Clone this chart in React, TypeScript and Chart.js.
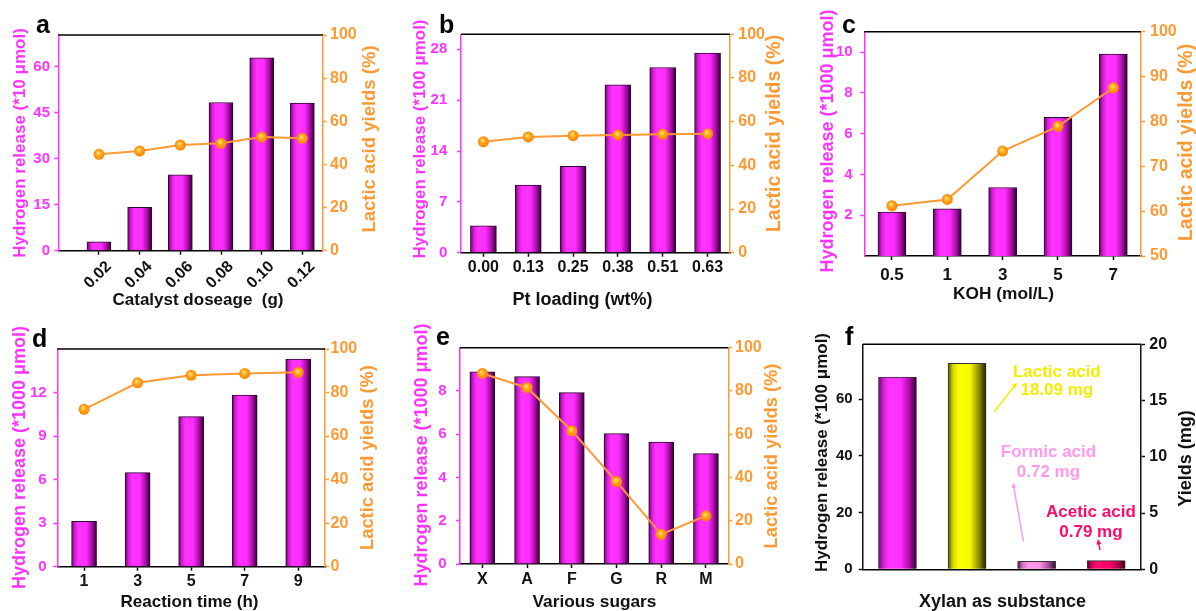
import React, { useEffect, useRef } from 'react';
import { Chart, registerables } from 'chart.js';

Chart.register(...registerables);

// ---------------- data ----------------
// (a) catalyst dosage
const aDoseLabels = ['0.02', '0.04', '0.06', '0.08', '0.10', '0.12'];
const aHydrogen = [2.9, 14.1, 24.7, 48.3, 62.9, 48.1];
const aLactic = [44.7, 46.2, 49.0, 49.8, 52.7, 52.1];
const aHTicks = [0, 15, 30, 45, 60];

// (b) Pt loading
const bPtLabels = ['0.00', '0.13', '0.25', '0.38', '0.51', '0.63'];
const bHydrogen = [3.7, 9.3, 11.9, 23.1, 25.5, 27.5];
const bLactic = [50.8, 53.0, 53.6, 53.9, 54.2, 54.5];
const bHTicks = [0, 7, 14, 21, 28];

// (c) KOH concentration
const cKohLabels = ['0.5', '1', '3', '5', '7'];
const cHydrogen = [2.15, 2.31, 3.36, 6.8, 9.9];
const cLactic = [61.2, 62.6, 73.4, 78.9, 87.5];
const cHTicks = [2, 4, 6, 8, 10];
const cLTicks = [50, 60, 70, 80, 90, 100];

// (d) reaction time
const dTimeLabels = ['1', '3', '5', '7', '9'];
const dHydrogen = [3.13, 6.48, 10.34, 11.82, 14.3];
const dLactic = [72.3, 84.5, 87.9, 88.8, 89.3];
const dHTicks = [0, 3, 6, 9, 12];

// (e) various sugars
const eSugarLabels = ['X', 'A', 'F', 'G', 'R', 'M'];
const eHydrogen = [8.89, 8.66, 7.92, 6.03, 5.64, 5.1];
const eLactic = [88.1, 81.5, 61.6, 38.1, 13.7, 22.3];
const eHTicks = [0, 2, 4, 6, 8];

// (f) xylan as substance
const fProducts = ['Hydrogen', 'Lactic acid', 'Formic acid', 'Acetic acid'];
const fHydrogenRelease = [67.8, null, null, null];
const fYields = [null, 18.3, 0.71, 0.77];
const fHTicks = [0, 20, 40, 60];
const fYTicks = [0, 5, 10, 15, 20];
const fNotes = [
  { lines: ['Lactic acid', '18.09 mg'], color: '#f2ee00', x: 2.29, y: [17.5, 15.9] },
  { lines: ['Formic acid', '0.72 mg'], color: '#ff99ee', x: 2.17, y: [10.4, 8.6] },
  { lines: ['Acetic acid', '0.79 mg'], color: '#ff0a6a', x: 2.78, y: [5.1, 3.25] },
];
const fArrows = [
  { from: [1.39, 14.0], to: [1.72, 16.6], color: '#f2ee00' },
  { from: [1.81, 2.45], to: [1.66, 7.7], color: '#ff99ee' },
  { from: [2.91, 1.7], to: [2.88, 2.7], color: '#ff0a6a' },
];

const pct020 = [0, 20, 40, 60, 80, 100];

// ---------------- style ----------------
const FONT = '"Liberation Sans", Arial, Helvetica, sans-serif';
const MAGENTA = '#ff33ff';
const ORANGE = '#ff9933';
const BLACK = '#111111';

type Stops = [number, string][];
const MAG_STOPS: Stops = [[0, '#5a0f5a'], [0.13, '#d81ad8'], [0.28, '#ff33ff'], [0.58, '#ff2eff'], [0.82, '#a80ca8'], [1, '#260026']];
const YEL_STOPS: Stops = [[0, '#555500'], [0.13, '#d8d800'], [0.28, '#ffff00'], [0.58, '#f8f800'], [0.82, '#8a8a00'], [1, '#1e1e00']];
const PINK_STOPS: Stops = [[0, '#4a1a4a'], [0.13, '#d070c8'], [0.28, '#ff99ee'], [0.58, '#ff90ea'], [0.82, '#a0509a'], [1, '#2a0a2a']];
const RED_STOPS: Stops = [[0, '#5a0022'], [0.13, '#d80060'], [0.28, '#ff0a70'], [0.58, '#ff0068'], [0.82, '#b00048'], [1, '#300010']];
const F_STOPS: Stops[] = [MAG_STOPS, YEL_STOPS, PINK_STOPS, RED_STOPS];

function barFill(stopsFor: (i: number) => Stops, thickness: number) {
  return (c: any) => {
    const stops = stopsFor(c.dataIndex ?? 0);
    if (c.type !== 'data' || !c.parsed) return stops[2][1];
    const xs = c.chart.scales.x;
    const px = xs ? xs.getPixelForValue(c.parsed.x) : NaN;
    if (!isFinite(px)) return stops[2][1];
    const g = c.chart.ctx.createLinearGradient(px - thickness / 2, 0, px + thickness / 2, 0);
    stops.forEach(([o, col]) => g.addColorStop(o, col));
    return g;
  };
}

function pointFill(c: any) {
  if (c.type !== 'data' || !c.parsed) return ORANGE;
  const xs = c.chart.scales.x;
  const ys = c.chart.scales.y1;
  const px = xs.getPixelForValue(c.parsed.x);
  const py = ys.getPixelForValue(c.parsed.y);
  if (!isFinite(px) || !isFinite(py)) return ORANGE;
  const g = c.chart.ctx.createRadialGradient(px - 1, py - 1.5, 0.5, px, py, 6);
  g.addColorStop(0, '#ffe066');
  g.addColorStop(0.45, '#ffa21a');
  g.addColorStop(1, '#ff7f00');
  return g;
}

function font(size: number) {
  return { family: FONT, size, weight: 'bold' as const };
}

function fixedTicks(values: number[]) {
  return (s: any) => {
    s.ticks = values.map((v) => ({ value: v }));
  };
}

// ---------------- decoration plugin ----------------
function drawRotatedText(ctx: CanvasRenderingContext2D, text: string, x: number, y: number, color: string, size: number) {
  ctx.save();
  ctx.translate(x, y);
  ctx.rotate(-Math.PI / 2);
  ctx.fillStyle = color;
  ctx.font = `bold ${size}px ${FONT}`;
  ctx.textAlign = 'center';
  ctx.textBaseline = 'middle';
  ctx.fillText(text, 0, 0);
  ctx.restore();
}

function drawArrow(ctx: CanvasRenderingContext2D, x0: number, y0: number, x1: number, y1: number, color: string) {
  const ang = Math.atan2(y1 - y0, x1 - x0);
  const head = 6;
  ctx.save();
  ctx.strokeStyle = color;
  ctx.fillStyle = color;
  ctx.lineWidth = 1.5;
  ctx.beginPath();
  ctx.moveTo(x0, y0);
  ctx.lineTo(x1 - Math.cos(ang) * head * 0.8, y1 - Math.sin(ang) * head * 0.8);
  ctx.stroke();
  ctx.beginPath();
  ctx.moveTo(x1, y1);
  ctx.lineTo(x1 - head * Math.cos(ang - 0.45), y1 - head * Math.sin(ang - 0.45));
  ctx.lineTo(x1 - head * Math.cos(ang + 0.45), y1 - head * Math.sin(ang + 0.45));
  ctx.closePath();
  ctx.fill();
  ctx.restore();
}

const decorPlugin = {
  id: 'decor',
  afterDraw(chart: any, _args: any, o: any) {
    const ctx: CanvasRenderingContext2D = chart.ctx;
    const ca = chart.chartArea;
    ctx.save();
    // top frame line
    ctx.strokeStyle = '#000';
    ctx.lineWidth = 1.5;
    ctx.beginPath();
    ctx.moveTo(ca.left, ca.top);
    ctx.lineTo(ca.right, ca.top);
    ctx.stroke();
    // panel letter
    ctx.fillStyle = '#000';
    ctx.font = `bold 25px ${FONT}`;
    ctx.textAlign = 'left';
    ctx.textBaseline = 'alphabetic';
    ctx.fillText(o.letter, o.letterX, o.letterY);
    // axis titles
    const midY = (ca.top + ca.bottom) / 2;
    drawRotatedText(ctx, o.leftTitle, o.leftTitleX, o.leftTitleY ?? midY, o.leftColor, o.leftSize);
    drawRotatedText(ctx, o.rightTitle, o.rightTitleX, o.rightTitleY ?? midY, o.rightColor, o.rightSize);
    ctx.fillStyle = BLACK;
    ctx.font = `bold ${o.xSize}px ${FONT}`;
    ctx.textAlign = 'center';
    ctx.textBaseline = 'middle';
    ctx.fillText(o.xTitle, o.xTitleX ?? (ca.left + ca.right) / 2, o.xTitleY);
    // annotations (positions in data units: category index, right-axis value)
    const xs = chart.scales.x;
    const ys = chart.scales.y1;
    (o.notes || []).forEach((n: any) => {
      ctx.fillStyle = n.color;
      ctx.font = `bold 17px ${FONT}`;
      n.lines.forEach((line: string, i: number) => {
        ctx.fillText(line, xs.getPixelForValue(n.x), ys.getPixelForValue(n.y[i]));
      });
    });
    (o.arrows || []).forEach((a: any) => {
      drawArrow(
        ctx,
        xs.getPixelForValue(a.from[0]),
        ys.getPixelForValue(a.from[1]),
        xs.getPixelForValue(a.to[0]),
        ys.getPixelForValue(a.to[1]),
        a.color,
      );
    });
    ctx.restore();
  },
};

// ---------------- chart builders ----------------
function yAxis(opts: any) {
  return {
    type: 'linear',
    position: opts.position,
    min: opts.min,
    max: opts.max,
    afterBuildTicks: fixedTicks(opts.ticks),
    afterFit: (s: any) => {
      s.width = opts.width;
      s.paddingTop = 0;
      s.paddingBottom = 0;
    },
    grid: { drawOnChartArea: false, drawTicks: true, tickLength: 4, color: opts.color, tickWidth: 1.5 },
    border: { display: true, color: opts.color, width: 1.5 },
    ticks: { color: opts.color, font: font(opts.size), padding: opts.pad },
  };
}

function buildDual(o: any) {
  const isLinear = !!o.linearValues;
  const barData = isLinear ? o.hydrogen.map((v: number, i: number) => ({ x: o.linearValues[i], y: v })) : o.hydrogen;
  const lineData = isLinear ? o.lactic.map((v: number, i: number) => ({ x: o.linearValues[i], y: v })) : o.lactic;
  const xAxis: any = {
    afterFit: (s: any) => {
      s.height = o.bottomH;
      s.paddingLeft = 0;
      s.paddingRight = 0;
    },
    grid: { drawOnChartArea: false, drawTicks: true, tickLength: 4, color: '#000', tickWidth: 1.5, offset: false },
    border: { display: true, color: '#000', width: 1.5 },
    ticks: { color: BLACK, font: font(o.xTickSize), padding: o.xPad, autoSkip: false, maxRotation: 0, minRotation: 0 },
  };
  if (isLinear) {
    Object.assign(xAxis, {
      type: 'linear',
      min: o.xMin,
      max: o.xMax,
      offset: false,
      afterBuildTicks: fixedTicks(o.linearValues),
    });
    xAxis.ticks = {
      ...xAxis.ticks,
      callback: (_v: any, i: number) => o.labels[i],
      maxRotation: 45,
      minRotation: 45,
      labelOffset: o.labelOffset,
    };
  } else {
    xAxis.type = 'category';
  }
  return {
    type: 'bar',
    data: {
      labels: isLinear ? undefined : o.labels,
      datasets: [
        {
          type: 'line',
          data: lineData,
          yAxisID: 'y1',
          order: 0,
          borderColor: ORANGE,
          borderWidth: 2,
          pointRadius: 5.5,
          pointBorderWidth: 0,
          pointBackgroundColor: pointFill,
          tension: 0,
        },
        {
          type: 'bar',
          data: barData,
          yAxisID: 'y',
          order: 1,
          barThickness: o.barThickness,
          backgroundColor: barFill(() => MAG_STOPS, o.barThickness),
          borderColor: '#2a0a2a',
          borderWidth: 1,
        },
      ],
    },
    options: {
      responsive: false,
      animation: false,
      events: [],
      layout: { padding: { top: o.top, left: 0, right: 0, bottom: 0 } },
      plugins: { legend: { display: false }, tooltip: { enabled: false }, decor: o.decor },
      scales: {
        x: xAxis,
        y: yAxis({ position: 'left', min: 0, max: o.yMax, ticks: o.yTicks, width: o.leftW, color: MAGENTA, pad: o.leftPad, size: 15 }),
        y1: yAxis({ position: 'right', min: o.y1Min, max: o.y1Max, ticks: o.y1Ticks, width: o.rightW, color: ORANGE, pad: o.rightPad, size: 16 }),
      },
    },
    plugins: [decorPlugin],
  };
}

function buildXylan() {
  const thickness = 38;
  return {
    type: 'bar',
    data: {
      labels: fProducts,
      datasets: [
        {
          data: fHydrogenRelease,
          yAxisID: 'y',
          grouped: false,
          barThickness: thickness,
          backgroundColor: barFill((i) => F_STOPS[i], thickness),
          borderColor: '#333333',
          borderWidth: 1,
        },
        {
          data: fYields,
          yAxisID: 'y1',
          grouped: false,
          barThickness: thickness,
          backgroundColor: barFill((i) => F_STOPS[i], thickness),
          borderColor: '#333333',
          borderWidth: 1,
        },
      ],
    },
    options: {
      responsive: false,
      animation: false,
      events: [],
      layout: { padding: { top: 34.3, left: 0, right: 0, bottom: 0 } },
      plugins: {
        legend: { display: false },
        tooltip: { enabled: false },
        decor: {
          letter: 'f', letterX: 49, letterY: 35,
          leftTitle: 'Hydrogen release (*100 μmol)', leftTitleX: 26, leftTitleY: 142.5, leftColor: BLACK, leftSize: 17,
          rightTitle: 'Yields (mg)', rightTitleX: 390, rightTitleY: 148.5, rightColor: BLACK, rightSize: 18,
          xTitle: 'Xylan as substance', xTitleX: 206.5, xTitleY: 292.5, xSize: 18,
          notes: fNotes, arrows: fArrows,
        },
      },
      scales: {
        x: {
          type: 'category',
          afterFit: (s: any) => {
            s.height = 41.7;
            s.paddingLeft = 0;
            s.paddingRight = 0;
          },
          grid: { drawOnChartArea: false, drawTicks: false },
          border: { display: true, color: '#000', width: 1.5 },
          ticks: { display: false },
        },
        y: yAxis({ position: 'left', min: 0, max: 79.4, ticks: fHTicks, width: 66.7, color: BLACK, pad: 6, size: 15 }),
        y1: yAxis({ position: 'right', min: 0, max: 20, ticks: fYTicks, width: 55, color: BLACK, pad: 4.3, size: 16 }),
      },
    },
    plugins: [decorPlugin],
  };
}

const panels = [
  {
    key: 'a', left: 0, top: 0, w: 400, h: 310,
    build: () => buildDual({
      labels: aDoseLabels, linearValues: aDoseLabels.map(Number), xMin: 0, xMax: 0.13, labelOffset: 10,
      hydrogen: aHydrogen, lactic: aLactic,
      yMax: 70.3, yTicks: aHTicks, y1Min: 0, y1Max: 100, y1Ticks: pct020,
      barThickness: 24, leftW: 58.3, rightW: 77.3, top: 35, bottomH: 59.3,
      leftPad: 4.3, rightPad: 3.3, xPad: 2.5, xTickSize: 16,
      decor: {
        letter: 'a', letterX: 36, letterY: 33,
        leftTitle: 'Hydrogen release (*10 μmol)', leftTitleX: 20, leftTitleY: 143, leftColor: MAGENTA, leftSize: 17,
        rightTitle: 'Lactic acid yields (%)', rightTitleX: 369.5, rightTitleY: 139, rightColor: ORANGE, rightSize: 18.5,
        xTitle: 'Catalyst doseage  (g)', xTitleX: 198, xTitleY: 300, xSize: 17,
      },
    }),
  },
  {
    key: 'b', left: 400, top: 0, w: 396, h: 310,
    build: () => buildDual({
      labels: bPtLabels, hydrogen: bHydrogen, lactic: bLactic,
      yMax: 30.07, yTicks: bHTicks, y1Min: 0, y1Max: 100, y1Ticks: pct020,
      barThickness: 26, leftW: 61, rightW: 66, top: 34.3, bottomH: 57.3,
      leftPad: 9.7, rightPad: 4.3, xPad: 1.7, xTickSize: 16,
      decor: {
        letter: 'b', letterX: 39, letterY: 33,
        leftTitle: 'Hydrogen release (*100 μmol)', leftTitleX: 20, leftTitleY: 139, leftColor: MAGENTA, leftSize: 17,
        rightTitle: 'Lactic acid yields (%)', rightTitleX: 375, rightTitleY: 133.5, rightColor: ORANGE, rightSize: 19.5,
        xTitle: 'Pt loading (wt%)', xTitleX: 182.5, xTitleY: 300, xSize: 18,
      },
    }),
  },
  {
    key: 'c', left: 796, top: 0, w: 400, h: 310,
    build: () => buildDual({
      labels: cKohLabels, hydrogen: cHydrogen, lactic: cLactic,
      yMax: 11.0, yTicks: cHTicks, y1Min: 50, y1Max: 100, y1Ticks: cLTicks,
      barThickness: 28, leftW: 68.3, rightW: 55, top: 31.7, bottomH: 54,
      leftPad: 7.6, rightPad: 5, xPad: 4.8, xTickSize: 17,
      decor: {
        letter: 'c', letterX: 46, letterY: 33,
        leftTitle: 'Hydrogen release (*1000 μmol)', leftTitleX: 31.7, leftTitleY: 141, leftColor: MAGENTA, leftSize: 18,
        rightTitle: 'Lactic acid yields (%)', rightTitleX: 391, rightTitleY: 142.5, rightColor: ORANGE, rightSize: 19.5,
        xTitle: 'KOH (mol/L)', xTitleX: 207.5, xTitleY: 294, xSize: 17.3,
      },
    }),
  },
  {
    key: 'd', left: 0, top: 310, w: 400, h: 301,
    build: () => buildDual({
      labels: dTimeLabels, hydrogen: dHydrogen, lactic: dLactic,
      yMax: 15.0, yTicks: dHTicks, y1Min: 0, y1Max: 100, y1Ticks: pct020,
      barThickness: 25, leftW: 57.3, rightW: 75, top: 39, bottomH: 44.3,
      leftPad: 6.6, rightPad: 1.5, xPad: 1.4, xTickSize: 16,
      decor: {
        letter: 'd', letterX: 32, letterY: 37,
        leftTitle: 'Hydrogen release (*1000 μmol)', leftTitleX: 20, leftTitleY: 147.5, leftColor: MAGENTA, leftSize: 18,
        rightTitle: 'Lactic acid yields (%)', rightTitleX: 367.5, rightTitleY: 147.5, rightColor: ORANGE, rightSize: 18.3,
        xTitle: 'Reaction time (h)', xTitleX: 189.5, xTitleY: 292.5, xSize: 17,
      },
    }),
  },
  {
    key: 'e', left: 400, top: 310, w: 396, h: 301,
    build: () => buildDual({
      labels: eSugarLabels, hydrogen: eHydrogen, lactic: eLactic,
      yMax: 10.0, yTicks: eHTicks, y1Min: 0, y1Max: 100, y1Ticks: pct020,
      barThickness: 25, leftW: 60, rightW: 67.7, top: 37.7, bottomH: 47,
      leftPad: 9.3, rightPad: 2.7, xPad: 2.4, xTickSize: 16,
      decor: {
        letter: 'e', letterX: 36, letterY: 35,
        leftTitle: 'Hydrogen release (*1000 μmol)', leftTitleX: 21.7, leftTitleY: 145, leftColor: MAGENTA, leftSize: 18,
        rightTitle: 'Lactic acid yields (%)', rightTitleX: 371.7, rightTitleY: 146, rightColor: ORANGE, rightSize: 18.3,
        xTitle: 'Various sugars', xTitleX: 194.5, xTitleY: 292.5, xSize: 17.3,
      },
    }),
  },
  { key: 'f', left: 796, top: 310, w: 400, h: 301, build: buildXylan },
];

function Panel({ spec }: { spec: any }) {
  const ref = useRef<HTMLCanvasElement | null>(null);
  useEffect(() => {
    if (!ref.current) return;
    const chart = new Chart(ref.current, spec.build() as any);
    return () => chart.destroy();
  }, [spec]);
  return (
    <canvas
      ref={ref}
      width={spec.w}
      height={spec.h}
      style={{ position: 'absolute', left: spec.left, top: spec.top, width: spec.w, height: spec.h }}
    />
  );
}

export default function App() {
  return (
    <div style={{ position: 'absolute', left: 0, top: 0, width: 1196, height: 611, background: '#ffffff', overflow: 'hidden' }}>
      {panels.map((p) => (
        <Panel key={p.key} spec={p} />
      ))}
    </div>
  );
}
